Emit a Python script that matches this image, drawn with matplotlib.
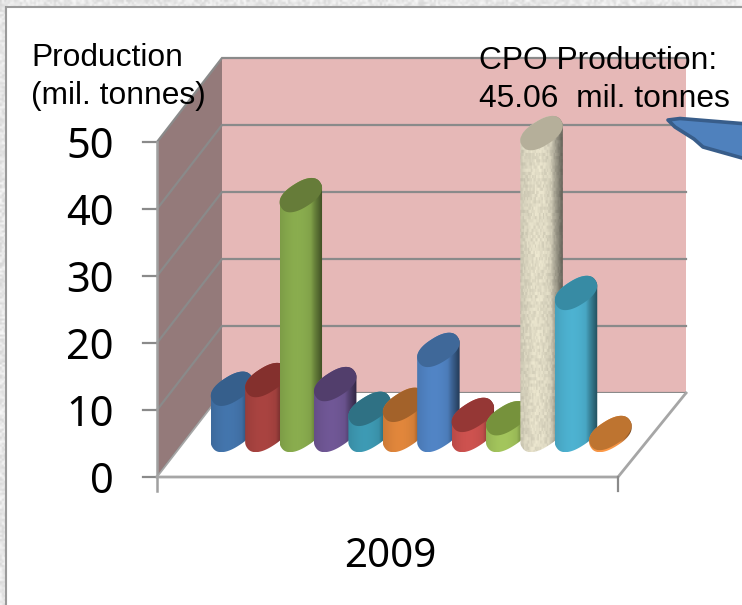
#Palm oil chart - fake 3D cylinders drawn on a plain 2D axes
import numpy as np
from matplotlib import pyplot as plt
from matplotlib.patches import Polygon
from matplotlib.transforms import Affine2D
from matplotlib.colors import to_rgb

###Data###
values = [6.9, 8.2, 35.8, 7.6, 3.9, 4.5, 12.7, 3.0, 2.5, 45.06, 21.2, 0.3]
body_colors = ["#4272A8", "#A5423F", "#86A84C", "#6D5592", "#3C96AF", "#DB833A",
               "#4F81C0", "#C8504D", "#9FC05A", "#DDD8C2", "#4BADCB", "#F79646"]
top_colors = ["#365F8C", "#84302D", "#667C39", "#523E6C", "#2F7184", "#A3622A",
              "#3F6899", "#953735", "#76923C", "#B5AF9A", "#378BA4", "#BE7430"]
y_ticks = [0, 10, 20, 30, 40, 50]
category = "2009"

###Geometry (pixels of the 742x605 picture)###
W, H = 742, 605
X0, DX = 232.0, 34.4      #centre of the first cylinder, spacing
Y0, UNIT = 435.0, 6.7     #floor level of the cylinders, pixels per unit
A, SX, SY = 18.5, 11.0, 17.0   #ellipse shear
FRONT_B, BACK_B = 477, 393
DEPTH_X, DEPTH_Y = 65, 84
LEFT, RIGHT = 157, 618

fig = plt.figure(figsize=(W / 100, H / 100), dpi=100)
ax = fig.add_axes([0, 0, 1, 1])
ax.set_xlim((0 - X0) / DX, (W - X0) / DX)
ax.set_ylim((Y0 - H) / UNIT, Y0 / UNIT)
ax.axis("off")
px = Affine2D().scale(1, -1).translate(0, H)   #decor in picture pixels


def noise(gx, gy):
    v = np.sin(gx * 12.9898 + gy * 78.233) * 43758.5453
    return v - np.floor(v)


def cylinder(i, value, col, top, textured=False):
    #ellipse with blunt ends: squarish along its own long and short axes
    t = np.linspace(0, 2 * np.pi, 240, endpoint=False)
    c = np.sign(np.cos(t)) * np.abs(np.cos(t)) ** 0.85
    s = np.sign(np.sin(t)) * np.abs(np.sin(t)) ** 0.85
    U, S, _ = np.linalg.svd(np.array([[A, SX], [0, SY]]))
    pts = U @ np.diag(S * 0.96) @ np.vstack([c, s])
    ex = pts[0] / DX + i
    ey = pts[1] / UNIT

    #walk from the left extreme along the lower side to the right extreme
    k_left = np.argmin(ex)
    ex2 = np.roll(ex, -k_left)
    ey2 = np.roll(ey, -k_left)
    if ey2[1] > ey2[-1]:   #make sure the walk goes round the lower side
        ex2 = np.roll(ex2[::-1], 1)
        ey2 = np.roll(ey2[::-1], 1)
    k_right = np.argmax(ex2)
    xs = np.r_[ex2[:k_right + 1], ex2[k_right:], ex2[0]]
    ys = np.r_[ey2[:k_right + 1], ey2[k_right:] + value, ey2[0] + value]
    body = Polygon(np.c_[xs, ys], closed=True, fc="none", ec="none")
    ax.add_patch(body)

    #shading across the width, dark on the right side
    n = 64
    u = np.linspace(0, 1, n)
    shade = 0.93 + 0.10 * np.sin(np.pi * np.clip(u / 0.8, 0, 1))
    shade = np.where(u > 0.72, shade - (u - 0.72) * 1.7, shade)
    base = np.array(to_rgb(col))
    if textured:
        gy, gx = np.mgrid[0:320, 0:n]
        tex = 0.93 + 0.12 * noise(gx // 2, gy // 3)
        img = np.clip(base[None, None, :] * (shade[None, :] * tex)[:, :, None], 0, 1)
    else:
        img = np.clip(base[None, None, :] * shade[None, :, None], 0, 1)
    im = ax.imshow(img, extent=[xs.min(), xs.max(), ys.min(), ys.max()], aspect="auto",
                   interpolation="bilinear", zorder=3 + i * 0.1)
    im.set_clip_path(body)

    ax.add_patch(Polygon(np.c_[ex, ey + value], closed=True, fc=top, ec="none",
                         zorder=3 + i * 0.1 + 0.01))


###Page background###
gy, gx = np.mgrid[0:H // 2, 0:W // 2]
paper = 0.84 + 0.13 * noise(gx, gy)
ax.imshow(paper, extent=[ax.get_xlim()[0], ax.get_xlim()[1], ax.get_ylim()[0], ax.get_ylim()[1]],
          cmap="gray", vmin=0, vmax=1, aspect="auto", zorder=0, interpolation="bilinear")
ax.add_patch(Polygon([(6, 7), (W + 5, 7), (W + 5, H + 5), (6, H + 5)], closed=True, fc="white",
                     ec="#9a9a9a", lw=1.5, transform=px, zorder=0.5))

###Walls and floor###
ax.add_patch(Polygon([(LEFT + DEPTH_X, BACK_B - 335), (RIGHT + 68, BACK_B - 335), (RIGHT + 68, BACK_B),
                      (LEFT + DEPTH_X, BACK_B)], closed=True, fc="#E6B8B7", ec="none",
                     transform=px, zorder=1))
ax.add_patch(Polygon([(LEFT, FRONT_B), (LEFT, FRONT_B - 335), (LEFT + DEPTH_X, BACK_B - 335),
                      (LEFT + DEPTH_X, BACK_B)], closed=True, fc="#947A7A", ec="none",
                     transform=px, zorder=1))
for tick in y_ticks:
    yp = FRONT_B - tick * UNIT
    ax.plot([LEFT, LEFT + DEPTH_X, RIGHT + 68], [yp, yp - DEPTH_Y, yp - DEPTH_Y], color="#8a8a8a",
            lw=1.6, transform=px, zorder=1.2, solid_joinstyle="miter")
    ax.plot([LEFT - 14, LEFT], [yp, yp], color="#8a8a8a", lw=1.6, transform=px, zorder=1.2)
    ax.text(114, yp + 5, str(tick), fontsize=30, family="Noto Sans", ha="right", va="center",
            color="black", transform=px, zorder=6)
ax.add_patch(Polygon([(LEFT, FRONT_B), (LEFT + DEPTH_X, BACK_B), (RIGHT + 68, BACK_B), (RIGHT, FRONT_B)],
                     closed=True, fc="white", ec="none", transform=px, zorder=1.5))
ax.plot([LEFT, LEFT], [FRONT_B - 335, FRONT_B + 14], color="#a0a0a0", lw=1.8, transform=px, zorder=1.6)
ax.plot([LEFT, RIGHT, RIGHT + 68], [FRONT_B, FRONT_B, BACK_B], color="#a6a6a6", lw=2, transform=px,
        zorder=1.6)
ax.plot([LEFT, LEFT + DEPTH_X], [FRONT_B, BACK_B], color="#a6a6a6", lw=1.2, transform=px, zorder=1.6)
ax.plot([RIGHT, RIGHT], [FRONT_B, FRONT_B + 14], color="#8a8a8a", lw=1.6, transform=px, zorder=1.6)

###Cylinders###
for i in range(len(values)):
    cylinder(i, values[i], body_colors[i], top_colors[i], textured=(i == 9))

###Callout###
ax.add_patch(Polygon([(668, 120), (680, 118.5), (760, 125), (760, 163), (703, 147), (694, 139), (675, 127)],
                     closed=True, fc="#4F81BD", ec="#385D8A", lw=2.6, transform=px, zorder=5,
                     joinstyle="round"))

###Texts###
sans = "Liberation Sans"
ax.text(31, 58, "Production", fontsize=22.9, family=sans, va="center", transform=px, zorder=6)
ax.text(31, 96, "(mil. tonnes)", fontsize=22.9, family=sans, va="center", transform=px, zorder=6)
ax.text(479, 61, "CPO Production:", fontsize=22.9, family=sans, va="center", transform=px, zorder=6)
ax.text(479, 99, "45.06  mil. tonnes", fontsize=22.9, family=sans, va="center", transform=px, zorder=6)
ax.text(390, 557, category, fontsize=29, family="Noto Sans", ha="center", va="center",
        transform=px, zorder=6)

ax.set_xlim((0 - X0) / DX, (W - X0) / DX)
ax.set_ylim((Y0 - H) / UNIT, Y0 / UNIT)
fig.savefig("out.png", dpi=100)
